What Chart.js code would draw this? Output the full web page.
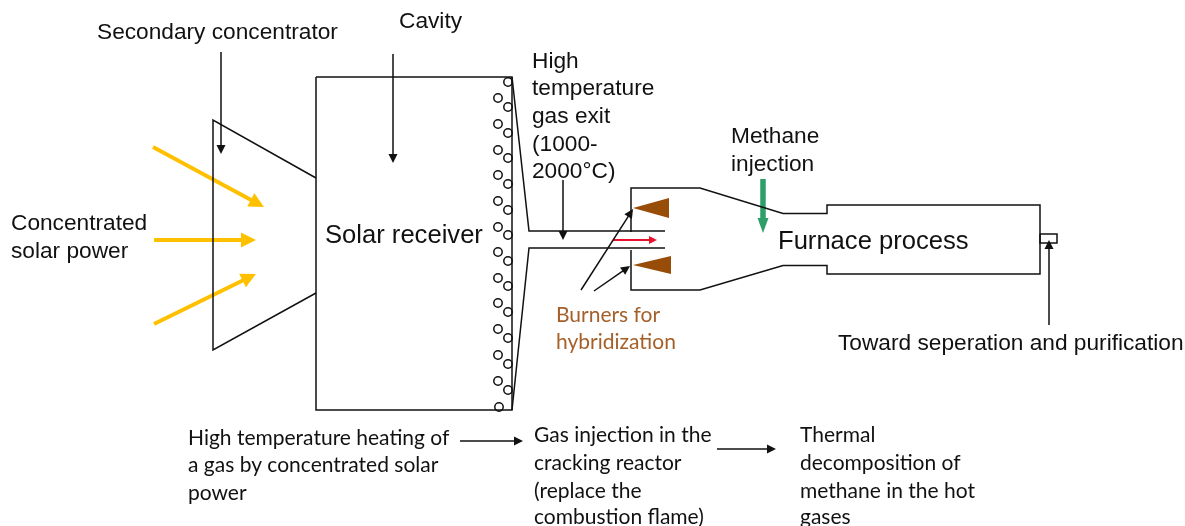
<!DOCTYPE html>
<html>
<head>
<meta charset="utf-8">
<title>Solar furnace process</title>
<script src="https://cdn.jsdelivr.net/npm/chart.js@4"></script>
<style>
  html, body { margin: 0; padding: 0; background: #fff; overflow: hidden; }
  canvas { display: block; }
</style>
</head>
<body>
<canvas id="diagram" width="1185" height="526"></canvas>
<script>
// Outlines
const receiverBox = [[316, 77], [512, 77], [512, 410], [316, 410], [316, 77]];
const concentrator = [[316, 178], [213, 120], [213, 350], [316, 293]];
const exitTop = [[512, 77], [529, 231], [665, 231]];
const exitBottom = [[512, 410], [529, 248], [665, 248]];
const furnaceTop = [[631, 232], [631, 188], [700, 188], [783, 213.5], [827, 213.5], [827, 205], [1040, 205], [1040, 274], [827, 274], [827, 265.5], [783, 265.5], [700, 290], [631, 290], [631, 250]];
const outletBox = [[1040, 234], [1057, 234], [1057, 243], [1040, 243], [1040, 234]];
const outlines = [receiverBox, concentrator, exitTop, exitBottom, furnaceTop, outletBox];

const burnerTop = [[633, 208], [669, 198], [669, 218], [633, 208]];
const burnerBottom = [[633, 265], [671, 256], [671, 274], [633, 265]];

// Tube coils along the receiver wall
const coilsLeft = [[498, 98], [498, 124], [498, 150], [498, 175], [498, 201], [498, 227], [498, 252], [498, 278], [498, 303], [498, 329], [498, 355], [498, 381], [499, 407]];
const coilsRight = [[508, 82], [508, 107], [508, 133], [508, 158], [508, 184], [508, 210], [508, 235], [508, 261], [508, 286], [508, 312], [508, 338], [508, 364], [508, 390]];

const blackArrows = [
  [[221, 52], [221, 154]],
  [[393, 54], [393, 163]],
  [[563, 180], [563, 240]],
  [[581, 290], [633, 209]],
  [[594, 291], [630, 266]],
  [[1049, 325], [1049, 240]],
  [[460, 441], [523, 441]],
  [[717, 449], [776, 449]]
];
const yellowArrows = [
  [[153, 147], [264, 207]],
  [[154, 240], [256, 240]],
  [[154, 324], [256, 274]]
];
const redArrow = [[613, 240], [657, 240]];
const greenArrow = [[763, 179], [763, 233]];

// Text: [string, x, baseline]
const mainLabels = [
  ['Secondary concentrator', 97, 39],
  ['Cavity', 399, 28],
  ['High', 532, 68],
  ['temperature', 532, 95],
  ['gas exit', 532, 123],
  ['(1000-', 532, 151],
  ['2000°C)', 532, 178],
  ['Methane', 731, 143],
  ['injection', 731, 171],
  ['Concentrated', 11, 230],
  ['solar power', 11, 258],
  ['Toward seperation and purification', 838, 350]
];
const bigLabels = [
  ['Solar receiver', 325, 243],
  ['Furnace process', 778, 249]
];
const burnerLabels = [
  ['Burners for', 556, 322],
  ['hybridization', 556, 349]
];
const stepLabels = [
  ['High temperature heating of', 188, 445],
  ['a gas by concentrated solar', 188, 472],
  ['power', 188, 500],
  ['Gas injection in the', 534, 442],
  ['cracking reactor', 534, 470],
  ['(replace the', 534, 498],
  ['combustion flame)', 534, 524],
  ['Thermal', 800, 442],
  ['decomposition of', 800, 470],
  ['methane in the hot', 800, 498],
  ['gases', 800, 524]
];

const BLACK = '#111111';
const BROWN = '#974c07';
const YELLOW = '#ffc000';
const RED = '#e8112d';
const GREEN = '#2e9e6b';

const toPoints = (list) => list.map(([x, y]) => ({ x, y }));

function lineSet(list, color, width) {
  return {
    data: toPoints(list),
    showLine: true,
    borderColor: color,
    borderWidth: width,
    pointRadius: 0,
    tension: 0,
    fill: false,
    clip: false
  };
}

function arrowSet(list, color, width, headLength, headWidth) {
  // stop the shaft at the head so thick lines do not poke through the tip
  const [from, to] = list;
  const len = Math.hypot(to[0] - from[0], to[1] - from[1]);
  const k = (len - headLength * 0.8) / len;
  const shaftEnd = [from[0] + (to[0] - from[0]) * k, from[1] + (to[1] - from[1]) * k];
  const set = lineSet([from, shaftEnd], color, width);
  set.arrow = { from, to, headLength, headWidth, color };
  return set;
}

function shapeSet(list, color) {
  const set = lineSet(list, color, 0);
  set.fill = 'shape';
  set.backgroundColor = color;
  return set;
}

function coilSet(list) {
  return {
    data: toPoints(list),
    showLine: false,
    pointRadius: 4.2,
    pointBorderWidth: 1.5,
    pointBorderColor: BLACK,
    pointBackgroundColor: '#ffffff',
    clip: false
  };
}

const datasets = [
  ...outlines.map((o) => lineSet(o, BLACK, 1.5)),
  shapeSet(burnerTop, BROWN),
  shapeSet(burnerBottom, BROWN),
  coilSet(coilsLeft),
  coilSet(coilsRight),
  ...blackArrows.map((a) => arrowSet(a, BLACK, 1.5, 9, 9)),
  ...yellowArrows.map((a) => arrowSet(a, YELLOW, 4, 15, 15)),
  arrowSet(redArrow, RED, 2, 8, 8),
  arrowSet(greenArrow, GREEN, 5.5, 15, 11)
];

const labelGroups = [
  { items: mainLabels, font: '22.7px "Liberation Sans"', color: BLACK },
  { items: bigLabels, font: '25.6px "Liberation Sans"', color: BLACK },
  { items: burnerLabels, font: '21px Lato', color: '#a5602a' },
  { items: stepLabels, font: '21px Lato', color: BLACK }
];

const diagramPlugin = {
  id: 'diagramPlugin',
  afterDatasetsDraw(chart) {
    const { ctx, scales: { x, y } } = chart;
    ctx.save();
    chart.data.datasets.forEach((set) => {
      if (!set.arrow) return;
      const { from, to, headLength, headWidth, color } = set.arrow;
      const tipX = x.getPixelForValue(to[0]);
      const tipY = y.getPixelForValue(to[1]);
      const angle = Math.atan2(tipY - y.getPixelForValue(from[1]), tipX - x.getPixelForValue(from[0]));
      ctx.save();
      ctx.translate(tipX, tipY);
      ctx.rotate(angle);
      ctx.fillStyle = color;
      ctx.beginPath();
      ctx.moveTo(0, 0);
      ctx.lineTo(-headLength, -headWidth / 2);
      ctx.lineTo(-headLength, headWidth / 2);
      ctx.closePath();
      ctx.fill();
      ctx.restore();
    });
    ctx.textBaseline = 'alphabetic';
    ctx.textAlign = 'left';
    labelGroups.forEach(({ items, font, color }) => {
      ctx.font = font;
      ctx.fillStyle = color;
      items.forEach(([text, tx, ty]) => {
        ctx.fillText(text, x.getPixelForValue(tx), y.getPixelForValue(ty));
      });
    });
    ctx.restore();
  }
};

new Chart(document.getElementById('diagram').getContext('2d'), {
  type: 'scatter',
  data: { datasets },
  options: {
    responsive: false,
    animation: false,
    events: [],
    layout: { padding: 0, autoPadding: false },
    scales: {
      x: { type: 'linear', min: 0, max: 1185, display: false },
      y: { type: 'linear', min: 0, max: 526, reverse: true, display: false }
    },
    plugins: {
      legend: { display: false },
      tooltip: { enabled: false },
      title: { display: false }
    }
  },
  plugins: [diagramPlugin]
});
</script>
</body>
</html>
